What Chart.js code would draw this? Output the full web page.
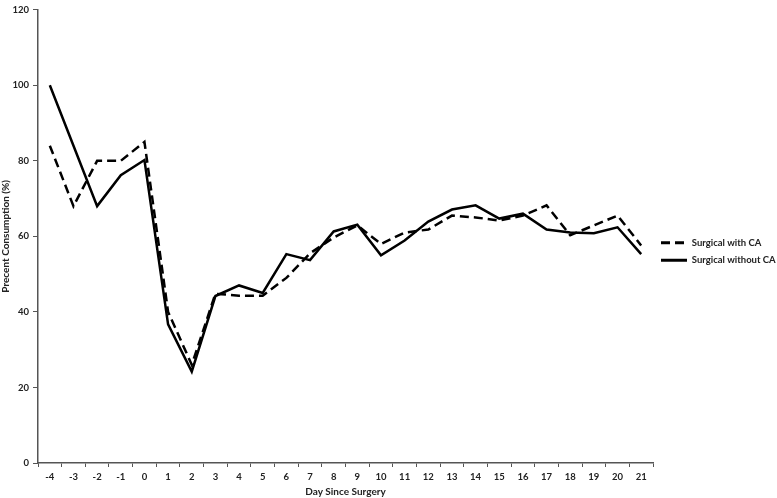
<!DOCTYPE html>
<html>
<head>
<meta charset="utf-8">
<script src="https://cdn.jsdelivr.net/npm/chart.js@4"></script>
<style>
  html, body { margin: 0; padding: 0; background: #fff; }
  #wrap { width: 777px; height: 498px; }
</style>
</head>
<body>
<div id="wrap"><canvas id="chartConsumo"></canvas></div>
<script>
const days = [-4, -3, -2, -1, 0, 1, 2, 3, 4, 5, 6, 7, 8, 9, 10, 11, 12, 13, 14, 15, 16, 17, 18, 19, 20, 21];
const withCA    = [84, 68, 80, 80, 85, 40, 26, 44.8, 44.3, 44.3, 49, 55.5, 59.7, 62.9, 58, 61, 61.8, 65.5, 65, 64.2, 65.5, 68.2, 60.3, 62.9, 65.5, 57.6];
const withoutCA = [100, 84, 68, 76.2, 80.2, 36.7, 24.2, 44.2, 47, 45, 55.3, 53.7, 61.3, 63.1, 55, 58.9, 63.9, 67.1, 68.2, 64.7, 66, 61.8, 61, 60.8, 62.4, 55.3];
const yTicks = [0, 20, 40, 60, 80, 100, 120];

const fontFam = 'Lato, "Liberation Sans", sans-serif';
const axisColor = '#555';

document.addEventListener('DOMContentLoaded', () => {
  const ctx = document.getElementById('chartConsumo').getContext('2d');

  new Chart(ctx, {
    type: 'line',
    data: {
      labels: days,
      datasets: [{
        label: 'Surgical with CA',
        data: withCA,
        borderColor: '#000',
        borderWidth: 2.5,
        borderDash: [9, 5],
        pointRadius: 0,
        tension: 0,
        fill: false
      }, {
        label: 'Surgical without CA',
        data: withoutCA,
        borderColor: '#000',
        borderWidth: 2.5,
        pointRadius: 0,
        tension: 0,
        fill: false
      }]
    },
    options: {
      responsive: true,
      maintainAspectRatio: false,
      animation: false,
      layout: { padding: { top: 5, left: 0, right: 0, bottom: 0 } },
      scales: {
        x: {
          offset: true,
          grid: { display: true, offset: true, drawOnChartArea: false, drawTicks: true, tickLength: 4, color: axisColor, lineWidth: 1 },
          border: { display: true, color: axisColor, width: 1.5 },
          ticks: { color: '#222', font: { family: fontFam, size: 9.5, weight: 'bold' }, padding: 4, maxRotation: 0, autoSkip: false },
          title: { display: true, text: 'Day Since Surgery', color: '#222', font: { family: fontFam, size: 10, weight: 'bold' }, padding: { top: 3, bottom: 0 } },
          afterFit: (s) => { s.height = 35; }
        },
        y: {
          min: 0,
          max: 120,
          afterBuildTicks: (s) => { s.ticks = yTicks.map(v => ({ value: v })); },
          grid: { display: true, drawOnChartArea: false, drawTicks: true, tickLength: 5, color: axisColor, lineWidth: 1 },
          border: { display: true, color: axisColor, width: 1.5 },
          ticks: { color: '#222', font: { family: fontFam, size: 9.5, weight: 'bold' }, padding: 4 },
          title: { display: true, text: 'Precent Consumption (%)', color: '#222', font: { family: fontFam, size: 10, weight: 'bold' }, padding: { top: 0, bottom: 2 } },
          afterFit: (s) => { s.width = 38; }
        }
      },
      plugins: {
        legend: {
          display: true,
          position: 'right',
          maxWidth: 124,
          labels: {
            usePointStyle: true,
            pointStyleWidth: 26,
            color: '#222',
            padding: 8,
            font: { family: fontFam, size: 9.5, weight: 'bold' },
            generateLabels: (chart) => chart.data.datasets.map((ds, i) => ({
              text: ds.label,
              datasetIndex: i,
              fillStyle: '#000',
              strokeStyle: '#000',
              fontColor: '#222',
              lineWidth: 3,
              lineDash: ds.borderDash || [],
              lineCap: 'butt',
              pointStyle: 'line',
              hidden: false
            }))
          }
        },
        tooltip: { enabled: false }
      }
    }
  });
});
</script>
</body>
</html>
